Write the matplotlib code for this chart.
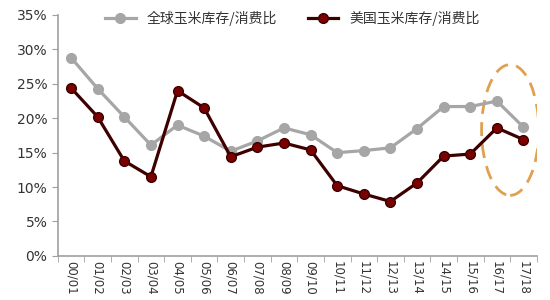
import matplotlib.pyplot as plt
from matplotlib.patches import Ellipse
from matplotlib.ticker import FuncFormatter
import numpy as np

plt.rcParams['font.family'] = ['Noto Sans CJK SC', 'DejaVu Sans']

seasons = ['00/01', '01/02', '02/03', '03/04', '04/05', '05/06', '06/07', '07/08', '08/09',
           '09/10', '10/11', '11/12', '12/13', '13/14', '14/15', '15/16', '16/17', '17/18']
world = [28.8, 24.3, 20.2, 16.1, 19.0, 17.4, 15.2, 16.7, 18.6,
         17.6, 15.0, 15.3, 15.7, 18.5, 21.7, 21.7, 22.5, 18.7]
usa = [24.4, 20.2, 13.8, 11.5, 24.0, 21.5, 14.4, 15.8, 16.4,
       15.4, 10.2, 9.0, 7.9, 10.6, 14.5, 14.8, 18.6, 16.9]
names = ['全球玉米库存/消费比', '美国玉米库存/消费比']

x = np.arange(len(seasons))

fig = plt.figure(figsize=(5.5, 3), dpi=100)
ax = fig.add_axes([0.105, 0.147, 0.871, 0.803])

ax.plot(x, world, color='#a6a6a6', lw=2.3, marker='o', ms=7, label=names[0])
ax.plot(x, usa, color='#3d0000', lw=2.3, marker='o', ms=7,
        mfc='#7a0000', mec='#3d0000', label=names[1])

ax.add_patch(Ellipse((16.5, 18.3), 2.15, 19.0, fill=False, ec='#e0a050',
                     lw=2, ls=(0, (5, 3))))

ax.set_xlim(-0.5, len(seasons) - 0.5)
ax.set_ylim(0, 35)
ax.set_yticks(np.arange(0, 36, 5))
ax.yaxis.set_major_formatter(FuncFormatter(lambda v, p: f'{v:.0f}%'))
for lbl in ax.get_yticklabels():
    lbl.set_family('DejaVu Sans')

ax.set_xticks(x)
ax.set_xticklabels(seasons, rotation=-90, fontsize=8.5, color='#333333', family='DejaVu Sans')
ax.set_xticks(np.arange(-0.5, len(seasons), 1), minor=True)
ax.tick_params(axis='x', which='major', length=0, pad=4)
ax.tick_params(axis='x', which='minor', length=4, color='#a0a0a0')
ax.tick_params(axis='y', length=4, color='#a0a0a0', labelsize=10, labelcolor='#333333')

for s in ['top', 'right']:
    ax.spines[s].set_visible(False)
for s in ['left', 'bottom']:
    ax.spines[s].set_color('#a0a0a0')
    ax.spines[s].set_linewidth(1.2)

ax.legend(loc='upper center', bbox_to_anchor=(0.49, 1.07), ncol=2, frameon=False,
          fontsize=10, handlelength=2.2, columnspacing=2.2, labelcolor='#333333')

fig.savefig('out.png', dpi=100)
